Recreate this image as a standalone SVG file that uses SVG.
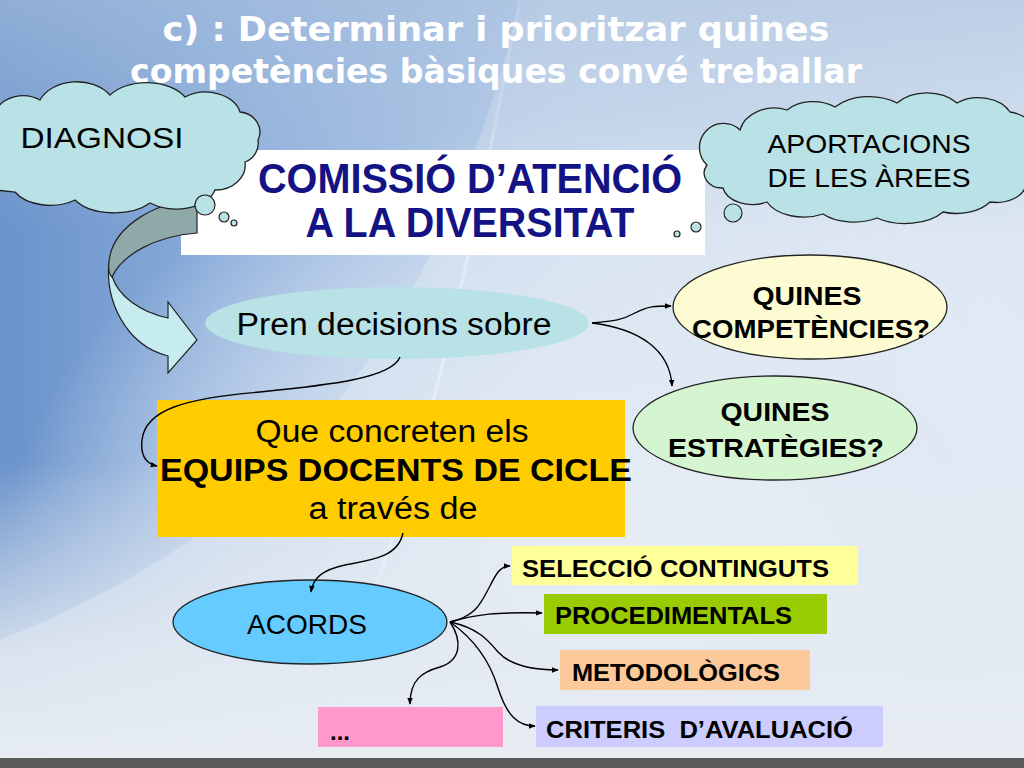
<svg xmlns="http://www.w3.org/2000/svg" width="1024" height="768" viewBox="0 0 1024 768">
<defs>
<linearGradient id="bg" x1="0" y1="0" x2="1" y2="0">
<stop offset="0" stop-color="#6a93cb"/>
<stop offset="0.25" stop-color="#8fb0dc"/>
<stop offset="0.55" stop-color="#bcd0ea"/>
<stop offset="1" stop-color="#d8e3f1"/>
</linearGradient>
<radialGradient id="glow" cx="0.6" cy="0.75" r="0.6">
<stop offset="0" stop-color="#f2f5f9" stop-opacity="0.95"/>
<stop offset="0.6" stop-color="#e6edf5" stop-opacity="0.6"/>
<stop offset="1" stop-color="#ffffff" stop-opacity="0"/>
</radialGradient>
<linearGradient id="topfade" x1="0" y1="0" x2="0" y2="1">
<stop offset="0" stop-color="#a9c0de" stop-opacity="0.6"/>
<stop offset="0.3" stop-color="#a9c0de" stop-opacity="0"/>
</linearGradient>
<linearGradient id="botfade" x1="0" y1="0" x2="0" y2="1">
<stop offset="0.6" stop-color="#e4eaf2" stop-opacity="0"/>
<stop offset="0.85" stop-color="#e4eaf2" stop-opacity="0.85"/>
<stop offset="1" stop-color="#e8edf3" stop-opacity="1"/>
</linearGradient>
<marker id="ah" viewBox="0 0 10 10" refX="9" refY="5" markerWidth="7" markerHeight="7" orient="auto" markerUnits="userSpaceOnUse">
<path d="M0,1 L10,5 L0,9 Z" fill="#000"/>
</marker>
<style>
.t{font-family:"Liberation Sans",Arial,sans-serif;fill:#000}
.b{font-weight:bold}
.cl{fill:#b9e2e6;stroke:#222;stroke-width:1.3}
.bub{fill:#b9e2e6;stroke:#222;stroke-width:1.2}
.con{fill:none;stroke:#000;stroke-width:1.4;marker-end:url(#ah)}
.el{stroke:#222;stroke-width:1.3}
</style>
</defs>

<!-- background -->
<rect x="0" y="0" width="1024" height="768" fill="url(#bg)"/>
<rect x="0" y="0" width="1024" height="768" fill="url(#glow)"/>
<path d="M0,640 C200,560 420,420 520,0 L1024,0 L1024,768 L0,768 Z" fill="#e3eaf3" opacity="0.45"/>
<path d="M300,768 C420,520 460,300 520,0" fill="none" stroke="#ffffff" stroke-width="3" opacity="0.35"/>
<rect x="0" y="0" width="1024" height="768" fill="url(#topfade)"/>
<rect x="0" y="0" width="1024" height="768" fill="url(#botfade)"/>
<rect x="0" y="758" width="1024" height="10" fill="#5a5a5a"/>

<!-- title -->
<g id="title">
<text x="496" y="41" text-anchor="middle" font-family="'DejaVu Sans',sans-serif" font-weight="bold" font-size="33" fill="#fff" textLength="667" lengthAdjust="spacingAndGlyphs">c) : Determinar i prioritzar quines</text>
<text x="496" y="83" text-anchor="middle" font-family="'DejaVu Sans',sans-serif" font-weight="bold" font-size="33" fill="#fff" textLength="732" lengthAdjust="spacingAndGlyphs">competències bàsiques convé treballar</text>
</g>

<!-- COMISSIÓ box -->
<g id="comissio">
<rect x="181" y="150" width="524" height="105" fill="#ffffff"/>
<text class="t b" x="470" y="193" text-anchor="middle" font-size="42" style="fill:#131385" textLength="424" lengthAdjust="spacingAndGlyphs">COMISSIÓ D’ATENCIÓ</text>
<text class="t b" x="470" y="237" text-anchor="middle" font-size="42" style="fill:#131385" textLength="329" lengthAdjust="spacingAndGlyphs">A LA DIVERSITAT</text>
</g>

<!-- curved block arrow -->
<g id="curved-arrow">
<path d="M109,262 C105,300 125,345 168,356 L168,373 L197,340 L168,302 L168,318 C140,312 118,296 112,276 Z" fill="#c6ecef" stroke="#222" stroke-width="1.2"/>
<path d="M197,200 C160,200 112,225 109,262 C108,270 110,275 112,277 C122,255 155,236 197,233 Z" fill="#8fa9a9" stroke="#222" stroke-width="1.2"/>
</g>

<!-- DIAGNOSI cloud -->
<g id="diagnosi">
<path class="cl" d="M-5,112 A30 25 0 0 1 40,100 A40 30 0 0 1 110,95 A45 30 0 0 1 185,97 A35 25 0 0 1 240,112 A22 20 0 0 1 258,140 A20 20 0 0 1 245,162 A30 25 0 0 1 215,190 A40 25 0 0 1 150,203 A45 25 0 0 1 75,200 A40 25 0 0 1 15,192 L-5,190 Z"/>
<circle class="bub" cx="205" cy="205" r="10"/>
<circle class="bub" cx="224" cy="217" r="5"/>
<circle class="bub" cx="234" cy="223" r="3"/>
<text class="t" x="102" y="148" text-anchor="middle" font-size="29" textLength="163" lengthAdjust="spacingAndGlyphs">DIAGNOSI</text>
</g>

<!-- APORTACIONS cloud -->
<g id="aportacions">
<path class="cl" d="M707,165 A22 22 0 0 1 740,130 A35 28 0 0 1 787,110 A35 25 0 0 1 835,107 A45 30 0 0 1 897,103 A40 30 0 0 1 957,103 A35 25 0 0 1 1010,112 A40 40 0 0 1 1026,185 A30 20 0 0 1 990,202 A40 25 0 0 1 943,212 A45 25 0 0 1 877,218 A40 22 0 0 1 823,214 A40 25 0 0 1 767,202 A30 20 0 0 1 723,188 A18 15 0 0 1 707,165 Z"/>
<circle class="bub" cx="733" cy="213" r="9"/>
<circle class="bub" cx="696" cy="227" r="5"/>
<circle class="bub" cx="677" cy="234" r="3"/>
<text class="t" x="869" y="153" text-anchor="middle" font-size="25" textLength="203" lengthAdjust="spacingAndGlyphs">APORTACIONS</text>
<text class="t" x="869" y="187" text-anchor="middle" font-size="25" textLength="203" lengthAdjust="spacingAndGlyphs">DE LES ÀREES</text>
</g>

<!-- Pren decisions -->
<g id="pren">
<ellipse cx="397" cy="323" rx="192" ry="36" fill="#b8e2e6"/>
<text class="t" x="394" y="335" text-anchor="middle" font-size="31" textLength="315" lengthAdjust="spacingAndGlyphs">Pren decisions sobre</text>
</g>

<!-- QUINES COMPETÈNCIES -->
<g id="competencies">
<ellipse class="el" cx="810" cy="307" rx="137" ry="52" fill="#fcfbd2"/>
<text class="t b" x="807" y="305" text-anchor="middle" font-size="25" textLength="109" lengthAdjust="spacingAndGlyphs">QUINES</text>
<text class="t b" x="811" y="338" text-anchor="middle" font-size="25" textLength="238" lengthAdjust="spacingAndGlyphs">COMPETÈNCIES?</text>
</g>

<!-- QUINES ESTRATÈGIES -->
<g id="estrategies">
<ellipse class="el" cx="775" cy="428" rx="142" ry="52" fill="#d5f5d0"/>
<text class="t b" x="775" y="421" text-anchor="middle" font-size="25" textLength="109" lengthAdjust="spacingAndGlyphs">QUINES</text>
<text class="t b" x="776" y="457" text-anchor="middle" font-size="25" textLength="216" lengthAdjust="spacingAndGlyphs">ESTRATÈGIES?</text>
</g>

<!-- yellow box -->
<g id="equips">
<rect x="157" y="400" width="468" height="137" fill="#ffcc00"/>
<text class="t" x="392" y="442" text-anchor="middle" font-size="31" textLength="273" lengthAdjust="spacingAndGlyphs">Que concreten els</text>
<text class="t b" x="396" y="481" text-anchor="middle" font-size="31" textLength="472" lengthAdjust="spacingAndGlyphs">EQUIPS DOCENTS DE CICLE</text>
<text class="t" x="393" y="519" text-anchor="middle" font-size="31" textLength="169" lengthAdjust="spacingAndGlyphs">a través de</text>
</g>

<!-- ACORDS -->
<g id="acords">
<ellipse class="el" cx="310" cy="622" rx="137" ry="42" fill="#66ccff"/>
<text class="t" x="307" y="634" text-anchor="middle" font-size="28" textLength="120" lengthAdjust="spacingAndGlyphs">ACORDS</text>
</g>

<g id="seleccio">
<rect x="512" y="546" width="346" height="39" fill="#ffff99"/>
<text class="t b" x="522" y="577" font-size="24" textLength="307" lengthAdjust="spacingAndGlyphs">SELECCIÓ CONTINGUTS</text>
</g>
<g id="procedimentals">
<rect x="544" y="594" width="283" height="40" fill="#99cc00"/>
<text class="t b" x="555" y="624" font-size="24" textLength="237" lengthAdjust="spacingAndGlyphs">PROCEDIMENTALS</text>
</g>
<g id="metodologics">
<rect x="560" y="650" width="250" height="40" fill="#fbc99a"/>
<text class="t b" x="572" y="681" font-size="24" textLength="208" lengthAdjust="spacingAndGlyphs">METODOLÒGICS</text>
</g>
<g id="etc">
<rect x="318" y="707" width="185" height="40" fill="#ff99cc"/>
<text class="t b" x="330" y="740" font-size="24">...</text>
</g>
<g id="criteris">
<rect x="536" y="706" width="347" height="41" fill="#ccccff"/>
<text class="t b" x="546" y="738" font-size="24" textLength="307" lengthAdjust="spacingAndGlyphs" xml:space="preserve">CRITERIS  D’AVALUACIÓ</text>
</g>

<!-- connectors -->
<g id="connectors">
<path class="con" d="M592,323 C615,321 622,320 635,313 C648,306 655,306 671,306"/>
<path class="con" d="M592,323 C640,329 670,350 672,386"/>
<path class="con" d="M400,357 C392,378 330,385 260,392 C185,398 145,410 142,440 C140,458 148,464 157,466"/>
<path class="con" d="M403,533 C398,557 372,560 345,565 C322,570 313,578 311,592"/>
<path class="con" d="M450,622 C478,616 482,600 490,586 C496,574 500,566 510,566"/>
<path class="con" d="M450,622 C478,614 495,612 542,613"/>
<path class="con" d="M450,622 C478,628 488,640 498,652 C512,667 535,670 558,670"/>
<path class="con" d="M450,622 C470,636 488,655 498,688 C507,716 518,726 535,726"/>
<path class="con" d="M450,622 C462,640 462,660 440,667 C422,672 410,680 410,704"/>
</g>
</svg>
